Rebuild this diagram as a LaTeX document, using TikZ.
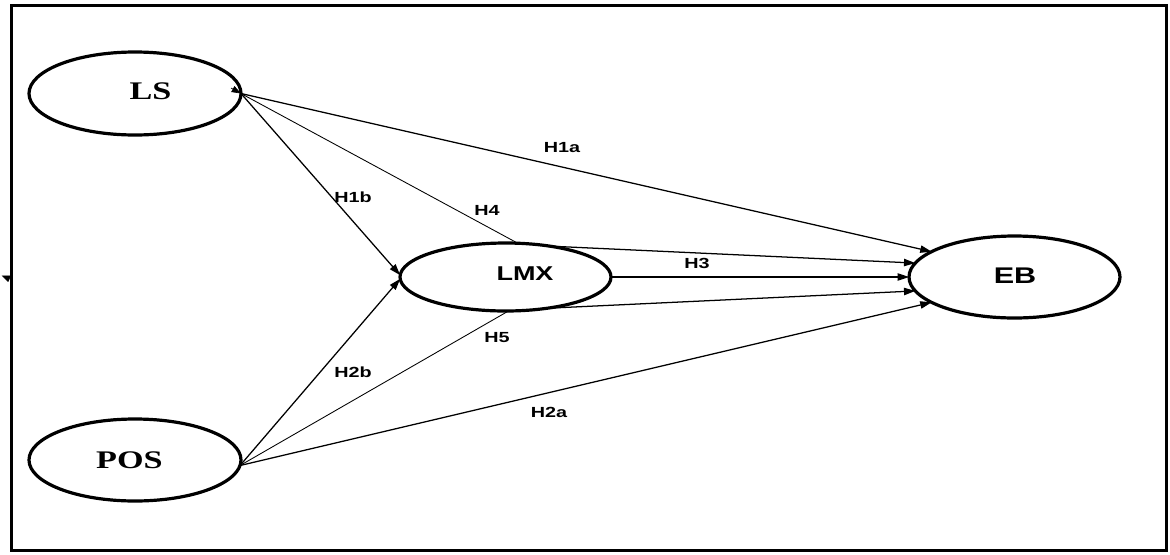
\documentclass[tikz,border=0pt]{standalone}
\usepackage{graphicx}
\usepackage{fontspec}
\setmainfont{Liberation Serif}
\newfontfamily\arialfont{Liberation Sans}
\usetikzlibrary{shapes.geometric,arrows.meta}

% widened lettering
\newcommand{\wideword}[1]{\scalebox{1.35}[1]{#1}}

\tikzset{
  construct/.style={draw, ellipse, line width=2.4pt, inner sep=0pt, outer sep=0pt},
  serifname/.style={font=\fontsize{19}{20}\selectfont\bfseries},
  sansname/.style={font=\arialfont\fontsize{15}{16}\selectfont\bfseries},
  bigsansname/.style={font=\arialfont\fontsize{17}{18}\selectfont\bfseries},
  hyp/.style={font=\arialfont\fontsize{11}{12}\selectfont\bfseries, inner sep=0pt},
  path arrow/.style={line width=0.95pt, -{Triangle[length=8.5pt,width=5.5pt]}},
  path plain/.style={line width=0.65pt},
  frame/.style={draw, line width=2.4pt},
}

\begin{document}
\begin{tikzpicture}[x=0.75pt, y=-0.75pt]
\useasboundingbox (0,0) rectangle (1170,554);

% outer frame
\draw[frame] (11.5,5.5) rectangle (1166.5,550.5);

% constructs
\node[construct, minimum width=159pt, minimum height=62.25pt] (ls)  at (135,93.5) {};
\node[construct, minimum width=159pt, minimum height=61.5pt]  (pos) at (135,460) {};
\node[construct, minimum width=158.25pt, minimum height=51pt] (lmx) at (505.5,277) {};
\node[construct, minimum width=158.25pt, minimum height=61.5pt] (eb) at (1014.5,277) {};

\node[serifname]   (lstext)  at (150.5,91.5)  {\wideword{LS}};
\node[serifname]   (postext) at (129.5,460)   {\wideword{POS}};
\node[sansname]    (lmxtext) at (525,273.7)   {\wideword{LMX}};
\node[bigsansname] (ebtext)  at (1015,275.5)  {\wideword{EB}};

% paths from LS
\draw[path arrow] (ls.east) -- (eb.163);
\draw[path arrow] (ls.east) -- (lmx.179);
\draw[path plain] (ls.east) -- (lmx.70);

% paths from LMX
\draw[path arrow] (lmx.35)  -- (eb.172);
\draw[path arrow] (lmx.east) -- (eb.west);
\draw[path arrow] (lmx.-37) -- (eb.-172);

% paths from POS
\draw[path arrow] (pos.-3.5) -- (lmx.-179);
\draw[path plain] (pos.-3.5) -- (lmx.-85);
\draw[path arrow] (pos.-3.5) -- (eb.-163);

% stray tips
\coordinate (tipA0) at (10,279);
\coordinate (tipA1) at (1.5,275.5);
\draw[line width=0.5pt, -{Triangle[length=6.5pt,width=5pt]}] (tipA0) -- (tipA1);
\coordinate (tipB0) at (231,88);
\draw[line width=0.5pt, -{Triangle[length=7pt,width=5pt]}] (tipB0) -- (ls.east);

% hypothesis labels
\node[hyp] (h1a) at (562,148) {\wideword{H1a}};
\node[hyp] (h1b) at (353,197) {\wideword{H1b}};
\node[hyp] (h4)  at (487,210) {\wideword{H4}};
\node[hyp] (h3)  at (697,263) {\wideword{H3}};
\node[hyp] (h5)  at (497,338) {\wideword{H5}};
\node[hyp] (h2b) at (353,372) {\wideword{H2b}};
\node[hyp] (h2a) at (549,412) {\wideword{H2a}};
\end{tikzpicture}
\end{document}
